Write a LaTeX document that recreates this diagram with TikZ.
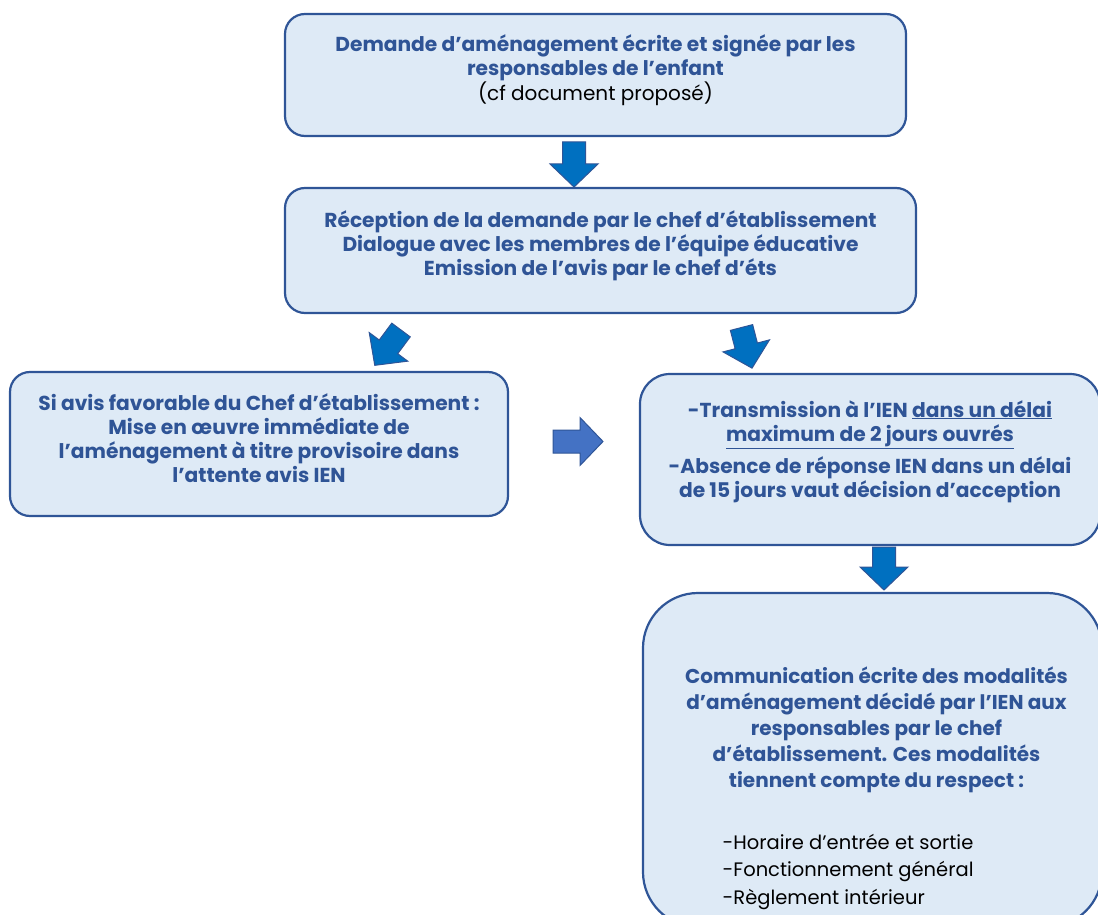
\documentclass[tikz,border=0pt]{standalone}
\usepackage{fontspec}
\setmainfont{Poppins}
\usetikzlibrary{calc}

\definecolor{boxfill}{HTML}{DEEAF6}
\definecolor{boxline}{HTML}{2F5597}
\definecolor{txtblue}{HTML}{2F5496}
\definecolor{arrfill}{HTML}{0070C0}
\definecolor{arrlight}{HTML}{4472C4}

\tikzset{
  stepbox/.style={draw=boxline, fill=boxfill, line width=2.2pt, rounded corners=20pt, inner sep=0pt},
  bluetxt/.style={text=txtblue, font=\bfseries\fontsize{20.2}{24}\selectfont, align=center, inner sep=0pt},
  blacktxt/.style={text=black, font=\fontsize{19.5}{27.5}\selectfont, align=left, inner sep=0pt},
  barrow/.style={draw=boxline, fill=arrfill, line width=1pt, line join=miter},
}

% block arrow: fill, start point, angle, length
\newcommand{\blockarrow}[4]{%
  \draw[barrow, fill=#1, shift={(#2)}, rotate=#3]
    (-11.5,0) -- (11.5,0) -- (11.5,#4-23) -- (24,#4-23) -- (0,#4)
    -- (-24,#4-23) -- (-11.5,#4-23) -- cycle;}

\begin{document}
\begin{tikzpicture}[x=1pt, y=-1pt]
  \useasboundingbox (0,0) rectangle (1098,915);
  \clip (0,0) rectangle (1098,915);

  % boxes
  \node[stepbox, minimum width=621pt, minimum height=122pt] (box1) at (595.5,75) {};
  \node[stepbox, minimum width=631pt, minimum height=125pt] (box2) at (600.5,250.5) {};
  \node[stepbox, minimum width=498pt, minimum height=144pt] (box3) at (259,444) {};
  \node[stepbox, rounded corners=30pt, minimum width=460pt, minimum height=171pt] (box4) at (870,459.5) {};
  \node[stepbox, rounded corners=55pt, minimum width=459pt, minimum height=334pt] (box5) at (872.5,760) {};

  % texts
  \node[bluetxt] (t1) at ($(box1.center)+(0,-5)$) {Demande d’aménagement écrite et signée par les\\
    responsables de l’enfant\\ \fontsize{20}{24}\selectfont\normalfont\color{black}(cf document proposé)};
  \node[bluetxt] (t2) at ($(box2.center)+(0,-5)$) {Réception de la demande par le chef d’établissement\\
    Dialogue avec les membres de l’équipe éducative\\
    Emission de l’avis par le chef d’éts};
  \node[bluetxt] (t3) at ($(box3.center)+(0,-6)$) {Si avis favorable du Chef d’établissement :\\
    Mise en œuvre immédiate de\\
    l’aménagement à titre provisoire dans\\
    l’attente avis IEN};
  \node[bluetxt] (t4) at ($(box4.center)+(0,-8)$) {-Transmission à l’IEN \underline{dans un délai}\\
    \underline{maximum de 2 jours ouvrés}\\[7pt]
    -Absence de réponse IEN dans un délai\\
    de 15 jours vaut décision d’acception};
  \node[bluetxt, font=\bfseries\fontsize{20}{26}\selectfont] (t5) at ($(box5.center)+(4,-30)$) {Communication écrite des modalités\\
    d’aménagement décidé par l’IEN aux\\
    responsables par le chef\\
    d’établissement. Ces modalités\\
    tiennent compte du respect :};
  \node[blacktxt, anchor=west] (t6) at ($(box5.center)+(-150,112)$) {-Horaire d’entrée et sortie\\
    -Fonctionnement général\\
    -Règlement intérieur};

  % arrows
  \blockarrow{arrfill}{574,142}{0}{45}
  \blockarrow{arrfill}{401,330}{-36.6}{44}
  \blockarrow{arrfill}{741.5,327.5}{14.5}{42}
  \blockarrow{arrlight}{553,441.5}{90}{50}
  \blockarrow{arrfill}{884,547}{0}{43}
\end{tikzpicture}
\end{document}
